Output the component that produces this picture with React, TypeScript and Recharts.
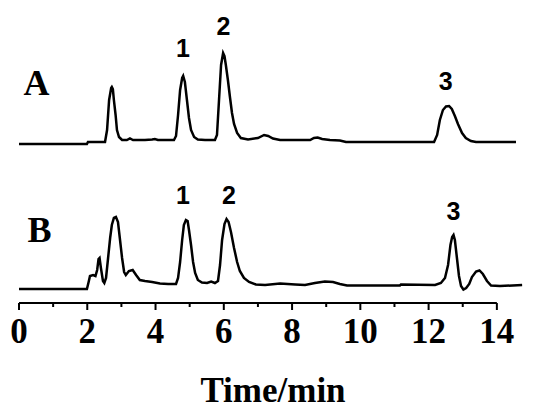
import { LineChart, Line, XAxis, YAxis, ReferenceLine, ReferenceDot } from 'recharts'

// chromatogram A: retention time (min) and detector signal (a.u., baseline = 0)
const timeA = [
  0, 1.99, 2.02, 2.52, 2.58, 2.64, 2.7, 2.72, 2.75, 2.78, 2.83, 2.87, 2.93, 3.02, 3.16, 3.25,
  3.34, 3.69, 3.9, 3.98, 4.07, 4.54, 4.6, 4.66, 4.72, 4.78, 4.81, 4.86, 4.92, 4.98, 5.04, 5.13,
  5.24, 5.45, 5.74, 5.8, 5.86, 5.92, 5.98, 6.02, 6.06, 6.12, 6.18, 6.24, 6.3, 6.39, 6.5, 6.71,
  7.0, 7.18, 7.3, 7.44, 7.65, 8.53, 8.64, 8.75, 8.88, 9.11, 9.4, 9.58, 12.16, 12.25, 12.33,
  12.42, 12.51, 12.6, 12.68, 12.77, 12.86, 12.98, 13.09, 13.24, 13.39, 14.56,
]
const signalA = [
  -1, -1, 1, 1, 13, 43, 55, 56, 54, 43, 28, 13, 6, 3, 3, 4.5,
  3, 3, 3.5, 4, 3, 3, 7, 28, 53, 65, 67, 61, 43, 25, 13, 6,
  3.5, 3, 3, 8, 43, 78, 90, 87, 78, 63, 46, 30, 19, 10, 5, 3.5,
  5, 8, 7, 4.5, 3, 3, 5, 5.5, 4, 3, 2.5, 1, 1, 8, 23,
  33, 36.5, 37, 34, 27, 19, 10, 5, 2, 1, 1,
]

// chromatogram B
const timeB = [
  0, 1.99, 2.04, 2.08, 2.17, 2.24, 2.29, 2.33, 2.36, 2.4, 2.46, 2.5, 2.55, 2.61, 2.67, 2.72,
  2.78, 2.84, 2.9, 2.96, 3.02, 3.08, 3.13, 3.22, 3.33, 3.43, 3.54, 3.69, 3.9, 4.13, 4.37, 4.6,
  4.66, 4.72, 4.78, 4.83, 4.89, 4.94, 4.98, 5.04, 5.1, 5.16, 5.24, 5.36, 5.51, 5.63, 5.74, 5.83,
  5.89, 5.95, 6.02, 6.08, 6.14, 6.21, 6.3, 6.39, 6.47, 6.59, 6.74, 6.94, 7.21, 7.65, 8.09, 8.38,
  8.67, 8.96, 9.2, 9.4, 9.61, 11.16, 11.19, 12.19, 12.36, 12.48, 12.57, 12.64, 12.69, 12.73,
  12.77, 12.83, 12.89, 12.95, 13.02, 13.1, 13.19, 13.27, 13.39, 13.49, 13.59, 13.71, 13.83,
  14.09, 14.74,
]
const signalB = [
  -2, -2, 5, 11, 12, 11, 17, 28, 29, 19, 6, 4, 9, 29, 49, 62,
  69, 70, 65, 47, 29, 15, 12, 16, 17, 12, 7, 6, 5, 3.5, 3, 3,
  9, 25, 47, 62, 67, 66, 57, 42, 25, 14, 7, 4.5, 4, 5.5, 4, 6,
  22, 47, 63, 68, 65, 55, 39, 25, 16, 9, 5, 2.5, 2, 3.5, 2.5, 2,
  4, 5.5, 5, 3, 1.5, 1.5, 2.5, 2, 4, 9, 22, 42, 50, 52,
  47, 29, 11, 1, -2.5, -1, 3, 10, 15.5, 16.5, 13, 6, 1.5,
  1, 2,
]

const xTicks = [0, 1, 2, 3, 4, 5, 6, 7, 8, 9, 10, 11, 12, 13, 14]

// stacking offsets for the two traces
const OFFSET_A = 160
const OFFSET_B = 16

const peakLabels = [
  { t: 4.8, v: 255, text: '1' },
  { t: 5.99, v: 277, text: '2' },
  { t: 12.5, v: 221.5, text: '3' },
  { t: 4.8, v: 108, text: '1' },
  { t: 6.15, v: 108, text: '2' },
  { t: 12.73, v: 91.5, text: '3' },
]
const traceLabels = [
  { t: 0.51, v: 221, text: 'A' },
  { t: 0.6, v: 73.5, text: 'B' },
]

const dataA = timeA.map((t, i) => ({ t, v: signalA[i] + OFFSET_A }))
const dataB = timeB.map((t, i) => ({ t, v: signalB[i] + OFFSET_B }))

const SERIF = "'Times New Roman', 'Liberation Serif', serif"
const SANS = "Arial, 'Liberation Sans', sans-serif"

function TimeTick(props: any) {
  const { x, y, payload } = props
  const major = payload.value % 2 === 0
  return (
    <g>
      <line x1={x} y1={y} x2={x} y2={y + (major ? 7 : 4)} stroke="#000" strokeWidth={2} />
      {major && (
        <text x={x} y={y + 40} textAnchor="middle" fontFamily={SERIF} fontWeight="bold"
          fontSize={35} fill="#000">
          {payload.value}
        </text>
      )}
    </g>
  )
}

export default function App() {
  return (
    <div style={{ position: 'absolute', left: 0, top: 0, background: '#fff' }}>
      <LineChart width={550} height={416} margin={{ top: 0, right: 19, bottom: 0, left: 19 }}>
        <XAxis
          type="number" dataKey="t" domain={[0, 15]} ticks={xTicks} interval={0}
          axisLine={false} tickLine={false} tickSize={0} tickMargin={0} height={113}
          tick={<TimeTick />}
          label={{
            value: 'Time/min', position: 'insideBottom', offset: 14, dx: -2,
            fontFamily: SERIF, fontWeight: 'bold', fontSize: 35, fill: '#000',
          }}
        />
        <YAxis type="number" domain={[0, 303]} hide />
        <ReferenceLine segment={[{ x: 0, y: 0 }, { x: 14, y: 0 }]} stroke="#000" strokeWidth={2}
          ifOverflow="visible" />
        <Line data={dataA} dataKey="v" type="linear" stroke="#000" strokeWidth={2.5} dot={false}
          isAnimationActive={false} />
        <Line data={dataB} dataKey="v" type="linear" stroke="#000" strokeWidth={2.5} dot={false}
          isAnimationActive={false} />
        {peakLabels.map((p, i) => (
          <ReferenceDot key={'p' + i} x={p.t} y={p.v} r={1} fill="none" stroke="none"
            ifOverflow="visible"
            label={{ value: p.text, position: 'center', fontFamily: SANS, fontWeight: 'bold',
              fontSize: 25, fill: '#000' }} />
        ))}
        {traceLabels.map((p, i) => (
          <ReferenceDot key={'l' + i} x={p.t} y={p.v} r={1} fill="none" stroke="none"
            ifOverflow="visible"
            label={{ value: p.text, position: 'center', fontFamily: SERIF, fontWeight: 'bold',
              fontSize: 36, fill: '#000' }} />
        ))}
      </LineChart>
    </div>
  )
}
